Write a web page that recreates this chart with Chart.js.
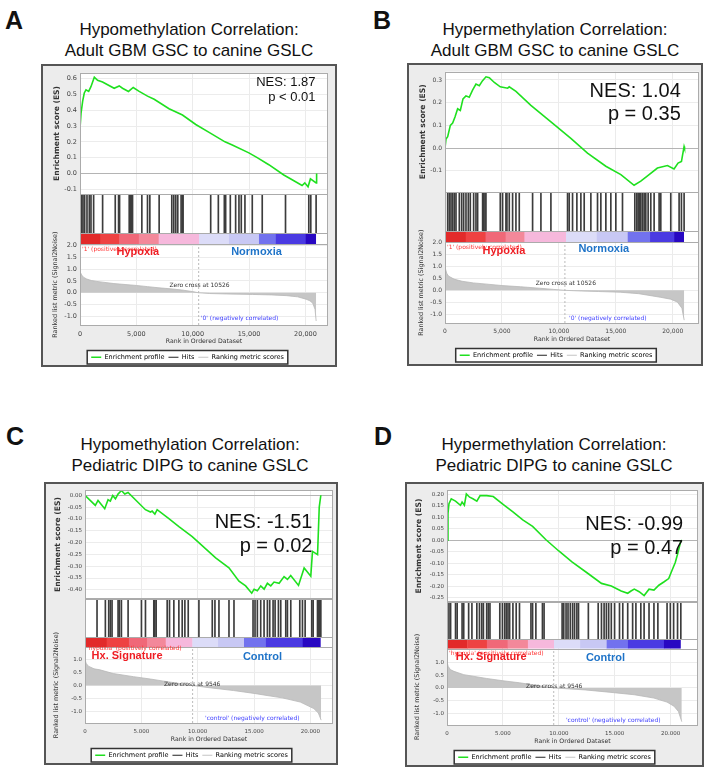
<!DOCTYPE html>
<html>
<head>
<meta charset="utf-8">
<title>GSEA methylation correlation</title>
<script src="https://cdn.jsdelivr.net/npm/chart.js@4.4.1/dist/chart.umd.min.js"></script>
<style>
  html, body { margin: 0; padding: 0; background: #fff; }
  body { position: relative; width: 709px; height: 774px; overflow: hidden; font-family: "Liberation Sans", Arial, sans-serif; color: #111; }
  .letter { position: absolute; font-size: 25px; font-weight: bold; line-height: 25px; }
  .title { position: absolute; width: 300px; text-align: center; font-size: 17px; line-height: 21px; }
  .box { position: absolute; box-sizing: border-box; border: 2px solid #555; background: #ececec; }
  .box canvas { position: absolute; left: 0; top: 0; }
</style>
</head>
<body>
<div class="letter" style="left:5px;top:8px">A</div>
<div class="title" style="left:39px;top:19px">Hypomethylation Correlation:<br>Adult GBM GSC to canine GSLC</div>
<div class="box" style="left:41px;top:64px;width:296px;height:303px"><canvas id="chartA" width="292" height="299"></canvas></div>

<div class="letter" style="left:373px;top:8px">B</div>
<div class="title" style="left:405px;top:19px">Hypermethylation Correlation:<br>Adult GBM GSC to canine GSLC</div>
<div class="box" style="left:407px;top:63px;width:296px;height:303px"><canvas id="chartB" width="292" height="299"></canvas></div>

<div class="letter" style="left:6px;top:424px">C</div>
<div class="title" style="left:40px;top:434px">Hypomethylation Correlation:<br>Pediatric DIPG to canine GSLC</div>
<div class="box" style="left:44px;top:482px;width:294px;height:283px"><canvas id="chartC" width="290" height="279"></canvas></div>

<div class="letter" style="left:374px;top:424px">D</div>
<div class="title" style="left:404px;top:434px">Hypermethylation Correlation:<br>Pediatric DIPG to canine GSLC</div>
<div class="box" style="left:405px;top:482px;width:299px;height:285px"><canvas id="chartD" width="295" height="281"></canvas></div>

<script>
// tick values
const xTicks = [0, 5000, 10000, 15000, 20000];
const esTicksA = [-0.1, 0, 0.1, 0.2, 0.3, 0.4, 0.5, 0.6];
const esTicksB = [-0.1, 0, 0.1, 0.2, 0.3];
const esTicksC = [-0.4, -0.35, -0.3, -0.25, -0.2, -0.15, -0.1, -0.05, 0];
const esTicksD = [-0.25, -0.2, -0.15, -0.1, -0.05, 0, 0.05, 0.1, 0.15, 0.2];
const rankTicksAB = [-1, -0.5, 0, 0.5, 1, 1.5, 2];
const rankTicksCD = [-1, -0.5, 0, 0.5, 1];

// heat map strip under the hits, red (hypoxia) -> blue (normoxia / control)
const barColors = ['#e22a2a', '#ee4242', '#f06878', '#f3889a', '#f6b8dc', '#dcdcf8', '#c8c8f4', '#7272ee', '#4a3ae2', '#2808c2'];

// ---- A: hypomethylation, adult GBM GSC
const esRanksA = [0, 5, 90, 240, 380, 530, 770, 970, 1270, 1560, 2000, 3030, 3480, 3770, 4300, 4720, 5250, 5990, 6580, 7900, 9090, 10270, 11450, 12860, 13510, 14980, 15720, 16750, 18080, 18820, 19700, 19940, 20230, 20440, 20950, 20990];
const esA = [0.0, 0.29, 0.38, 0.46, 0.51, 0.53, 0.52, 0.55, 0.61, 0.59, 0.58, 0.54, 0.555, 0.54, 0.52, 0.545, 0.52, 0.49, 0.47, 0.41, 0.37, 0.31, 0.26, 0.20, 0.18, 0.13, 0.10, 0.055, -0.01, -0.04, -0.077, -0.06, -0.085, -0.035, -0.06, 0.0];
const hitsA = [60, 148, 266, 413, 620, 826, 974, 1209, 2006, 3127, 3422, 3510, 4366, 4454, 4543, 4661, 5487, 5988, 6195, 7021, 8142, 8319, 8496, 8673, 8968, 9086, 9145, 11594, 12272, 12803, 12921, 13334, 13806, 14101, 14307, 14632, 15282, 16166, 18231, 20296, 20473, 20945];
const metricRanksA = [0, 40, 150, 300, 600, 1000, 1500, 2000, 3000, 4000, 5000, 6000, 7000, 8000, 9000, 10000, 10526, 11500, 13000, 15300, 17000, 18300, 19300, 20060, 20400, 20650, 20850, 20950];
const metricA = [0.97, 0.86, 0.75, 0.66, 0.58, 0.52, 0.48, 0.45, 0.39, 0.35, 0.31, 0.26, 0.21, 0.17, 0.12, 0.05, 0, -0.03, -0.05, -0.07, -0.09, -0.12, -0.17, -0.27, -0.34, -0.44, -0.7, -1.19];
const barEdgesA = [0, 1800, 3480, 5200, 6960, 10560, 13200, 15870, 17350, 20000, 20950];

// ---- B: hypermethylation, adult GBM GSC
const esRanksB = [0, 88, 234, 468, 672, 877, 1110, 1345, 1580, 1840, 2130, 2430, 2720, 3010, 3300, 3600, 3890, 4330, 4850, 5500, 5640, 6230, 7540, 9300, 11050, 12510, 14120, 15440, 16600, 17190, 17920, 18650, 19530, 20110, 20460, 20760, 20990, 21030];
const esB = [0.0, 0.04, 0.05, 0.10, 0.11, 0.137, 0.173, 0.166, 0.217, 0.23, 0.224, 0.256, 0.282, 0.275, 0.297, 0.314, 0.31, 0.289, 0.27, 0.264, 0.27, 0.25, 0.188, 0.115, 0.043, -0.022, -0.08, -0.117, -0.164, -0.146, -0.117, -0.088, -0.077, -0.092, -0.066, -0.059, 0.007, 0.0];
const hitsB = [10, 234, 380, 526, 672, 818, 965, 1257, 1462, 1637, 1842, 2046, 2222, 2514, 2719, 2865, 3303, 3391, 3508, 3596, 4853, 5057, 5350, 5438, 5643, 5935, 6228, 6520, 7690, 8421, 9298, 10760, 10905, 11198, 11578, 11929, 12221, 12806, 13391, 13683, 14122, 14560, 14998, 15583, 16665, 16840, 16957, 17074, 17191, 17337, 17483, 17629, 17834, 18068, 18360, 18798, 18945, 19822, 20553, 20758, 20992];
const metricRanksB = [0, 40, 150, 300, 790, 1500, 2500, 3680, 5000, 6640, 8000, 9500, 10526, 12000, 13500, 15400, 17000, 18900, 19800, 20400, 20800, 21000];
const metricB = [1.08, 0.9, 0.72, 0.6, 0.47, 0.38, 0.31, 0.26, 0.2, 0.15, 0.1, 0.04, 0, -0.03, -0.05, -0.08, -0.14, -0.29, -0.37, -0.49, -0.75, -1.25];
const barEdgesB = [0, 1800, 3540, 5300, 6960, 10610, 13300, 16020, 18000, 20110, 20990];

// ---- C: hypomethylation, pediatric DIPG
const esRanksC = [0, 916, 1156, 1750, 2045, 2250, 2460, 2700, 2930, 3230, 3530, 3820, 5360, 5810, 5960, 6200, 6400, 7440, 8330, 9510, 11590, 12770, 13660, 14250, 14790, 15000, 15290, 15590, 15890, 16180, 16480, 16770, 17220, 17660, 17960, 18250, 18940, 19440, 20030, 20180, 20630, 20780, 20920];
const esC = [0.0, -0.043, -0.022, -0.057, -0.019, -0.025, -0.001, -0.015, 0.005, 0.02, 0.005, 0.012, -0.061, -0.071, -0.067, -0.08, -0.061, -0.099, -0.133, -0.175, -0.265, -0.307, -0.363, -0.383, -0.414, -0.397, -0.404, -0.383, -0.397, -0.372, -0.383, -0.367, -0.372, -0.344, -0.356, -0.339, -0.381, -0.307, -0.342, -0.237, -0.251, -0.05, 0.0];
const hitsC = [1067, 1807, 2104, 2252, 2400, 2934, 3052, 3230, 3823, 5008, 5364, 6104, 6193, 6312, 7290, 7497, 7882, 8327, 8623, 8860, 9157, 10105, 11290, 11527, 11883, 12772, 13216, 14906, 15083, 15291, 15587, 15884, 16180, 16387, 16684, 16862, 17158, 17365, 17810, 17958, 18254, 19054, 19291, 19528, 20121, 20240, 20625, 20714, 20832, 20921];
const metricRanksC = [0, 100, 300, 800, 1330, 2500, 4300, 5800, 7260, 8500, 9546, 11000, 13180, 15000, 16150, 17500, 19100, 20300, 20700, 20950];
const metricC = [1.0, 0.85, 0.74, 0.64, 0.6, 0.46, 0.34, 0.25, 0.15, 0.07, 0, -0.08, -0.19, -0.3, -0.38, -0.47, -0.63, -0.88, -1.05, -1.32];
const barEdgesC = [0, 1900, 3880, 5500, 7140, 9510, 11800, 14100, 16030, 19290, 20920];

// ---- D: hypermethylation, pediatric DIPG
const esRanksD = [0, 88, 176, 381, 762, 1203, 1349, 1555, 1731, 2024, 2317, 2669, 2963, 3549, 4136, 5016, 5896, 6776, 7656, 8829, 10000, 11176, 12643, 13816, 14696, 15576, 16163, 16456, 16750, 17190, 17630, 18070, 18510, 18950, 19390, 19830, 20120, 20416, 20620, 20910, 21000];
const esD = [0.0, 0.116, 0.159, 0.18, 0.17, 0.152, 0.166, 0.152, 0.201, 0.187, 0.18, 0.17, 0.194, 0.194, 0.19, 0.156, 0.123, 0.088, 0.06, 0.003, -0.047, -0.094, -0.146, -0.188, -0.199, -0.221, -0.231, -0.221, -0.213, -0.224, -0.241, -0.213, -0.217, -0.196, -0.182, -0.167, -0.132, -0.097, -0.061, -0.004, 0.0];
const hitsD = [29, 176, 323, 763, 909, 1349, 1496, 1936, 2229, 2669, 2904, 3109, 3256, 3549, 3696, 3843, 4723, 4957, 5163, 5309, 5456, 5603, 5896, 6189, 6483, 7509, 7656, 7949, 8536, 8683, 10296, 10443, 10648, 10824, 11029, 11235, 11411, 11616, 11763, 12643, 13523, 13816, 14051, 14256, 14461, 14696, 14989, 15429, 15723, 16163, 16603, 16896, 17336, 17629, 18069, 18509, 18861, 19683, 19976, 20269, 20621, 20914];
const metricRanksD = [0, 100, 300, 620, 1500, 3550, 5000, 6490, 8000, 9546, 12350, 14500, 16750, 18500, 19680, 20300, 20700, 21000];
const metricD = [1.04, 0.85, 0.72, 0.65, 0.52, 0.37, 0.28, 0.2, 0.1, 0, -0.08, -0.17, -0.27, -0.4, -0.56, -0.72, -0.93, -1.33];
const barEdgesD = [0, 1800, 3550, 5400, 7220, 9570, 11900, 14260, 16170, 19390, 20920];

Chart.defaults.font.family = '"DejaVu Sans", sans-serif';
Chart.defaults.color = '#444';

const GREEN = '#1fe01f';
const RED = '#ee1d23', BLUE = '#1e73c8';
const big = px => px + 'px "Liberation Sans", Arial, sans-serif';
const small = '6px "DejaVu Sans", sans-serif';

// white plot area, framed sub-plots, and the legend frame
const framePlugin = {
  id: 'frame',
  beforeDraw(chart) {
    const ctx = chart.ctx, a = chart.chartArea;
    ctx.save();
    ctx.fillStyle = '#fff';
    ctx.fillRect(a.left, a.top, a.right - a.left, a.bottom - a.top);
    const hb = chart.legend && chart.legend.legendHitBoxes;
    if (hb && hb.length) {
      const l = Math.min(...hb.map(b => b.left)) - 4;
      const r = Math.max(...hb.map(b => b.left + b.width)) + 4;
      const t = hb[0].top - 3.5, h = hb[0].height + 7;
      ctx.fillRect(l, t, r - l, h);
      ctx.strokeStyle = '#333';
      ctx.lineWidth = 1.5;
      ctx.strokeRect(l, t, r - l, h);
    }
    ctx.restore();
  },
  afterDatasetsDraw(chart) {
    const ctx = chart.ctx, a = chart.chartArea;
    ctx.save();
    ctx.strokeStyle = '#ababab';
    ctx.lineWidth = 1;
    ['yES', 'yHits', 'yBar', 'yRank'].forEach(id => {
      const s = chart.scales[id];
      ctx.strokeRect(a.left + 0.5, Math.round(s.top) + 0.5, a.right - a.left - 1, Math.round(s.bottom - s.top));
    });
    ctx.restore();
  }
};

// text placed in data coordinates
const notesPlugin = {
  id: 'notes',
  afterDatasetsDraw(chart, args, opts) {
    const ctx = chart.ctx;
    (opts.items || []).forEach(n => {
      ctx.save();
      ctx.font = n.font;
      ctx.fillStyle = n.color;
      ctx.textAlign = n.align || 'center';
      ctx.textBaseline = 'middle';
      ctx.fillText(n.text, chart.scales.x.getPixelForValue(n.x), chart.scales[n.axis].getPixelForValue(n.y));
      ctx.restore();
    });
  }
};

const legendItems = [
  {text: 'Enrichment profile', fillStyle: GREEN, strokeStyle: GREEN, lineWidth: 1.6, pointStyle: 'line', hidden: false},
  {text: 'Hits', fillStyle: '#222', strokeStyle: '#222', lineWidth: 1.2, pointStyle: 'line', hidden: false},
  {text: 'Ranking metric scores', fillStyle: '#c4c4c4', strokeStyle: '#c4c4c4', lineWidth: 1.2, pointStyle: 'line', hidden: false}
];

function fmtRank(v, sep) {
  return String(v).replace(/\B(?=(\d{3})+(?!\d))/g, sep);
}

const useTicks = list => s => { s.ticks = list.map(v => ({value: v})); };

function gsea(p) {
  const pts = (xs, ys) => xs.map((x, i) => ({x: x, y: ys[i]}));
  const datasets = [
    {label: 'Enrichment profile', data: pts(p.esRanks, p.es), yAxisID: 'yES', borderColor: GREEN, borderWidth: 1.6, pointRadius: 0, tension: 0},
    {type: 'bar', label: 'Hits', data: p.hits.map(r => ({x: r, y: [0, 1]})), yAxisID: 'yHits', backgroundColor: '#3c3c3c', barThickness: 1, grouped: false, borderWidth: 0},
    {label: 'Ranking metric scores', data: pts(p.metricRanks, p.metric), yAxisID: 'yRank', borderColor: '#b8b8b8', borderWidth: 0.8, backgroundColor: '#c6c6c6', fill: 'origin', pointRadius: 0},
    {label: 'zero cross', data: [{x: p.zeroCross, y: p.rankRange[0]}, {x: p.zeroCross, y: p.rankRange[1]}], yAxisID: 'yRank', borderColor: '#aaa', borderDash: [2, 2], borderWidth: 0.8, pointRadius: 0}
  ];
  const last = barColors.length - 1;
  barColors.forEach((c, i) => datasets.push({
    // segments overlap a hair so no seam shows between neighbouring colours
    label: 'heat', data: [{x: p.barEdges[i], y: 1}, {x: p.barEdges[i + 1] + (i < last ? 60 : 0), y: 1}],
    yAxisID: 'yBar', borderWidth: 1, borderColor: c, backgroundColor: c, fill: 'origin', pointRadius: 0, order: 10 - i
  }));

  const tickFont = {size: p.tick};
  const yW = s => { s.width = p.axisW; };

  new Chart(document.getElementById(p.id), {
    type: 'line',
    data: {datasets: datasets},
    options: {
      responsive: false,
      animation: false,
      events: [],
      layout: {padding: p.pad},
      plugins: {
        legend: {
          position: 'bottom',
          labels: {usePointStyle: true, pointStyleWidth: 10, padding: 4, color: '#222', font: {size: 6.5}, generateLabels: () => legendItems}
        },
        tooltip: {enabled: false},
        notes: {items: p.notes}
      },
      scales: {
        x: {
          type: 'linear', min: 0, max: p.xMax, offset: false,
          afterBuildTicks: useTicks(xTicks),
          ticks: {font: tickFont, padding: 5, maxRotation: 0, autoSkip: false, callback: v => fmtRank(v, p.sep)},
          grid: {color: '#e6e6e6', lineWidth: 0.8, drawTicks: false, offset: false},
          border: {display: false},
          title: {display: true, text: 'Rank in Ordered Dataset', color: '#333', font: {size: 6.2}, padding: {top: 0, bottom: 5}},
          afterFit: s => { s.height = 25; s.paddingLeft = 0; s.paddingRight = 0; }
        },
        yRank: {
          type: 'linear', position: 'left', stack: 'gsea', stackWeight: p.weights[3],
          min: p.rankRange[0], max: p.rankRange[1],
          afterBuildTicks: useTicks(p.rankTicks),
          ticks: {autoSkip: false, font: tickFont, padding: 3, callback: v => v.toFixed(1)},
          grid: {color: '#ececec', drawTicks: false},
          border: {display: false},
          title: {display: true, text: 'Ranked list metric (Signal2Noise)', color: '#333', font: {size: 6.4}, padding: {top: p.titlePad, bottom: 0}},
          afterFit: yW
        },
        yBar: {type: 'linear', position: 'left', stack: 'gsea', stackWeight: p.weights[2], min: 0, max: 1, display: false},
        yHits: {type: 'linear', position: 'left', stack: 'gsea', stackWeight: p.weights[1], min: 0, max: 1, display: false},
        yES: {
          type: 'linear', position: 'left', stack: 'gsea', stackWeight: p.weights[0],
          min: p.esRange[0], max: p.esRange[1],
          afterBuildTicks: useTicks(p.esTicks),
          ticks: {autoSkip: false, font: tickFont, padding: 3, callback: v => v.toFixed(p.esDec)},
          grid: {color: c => (c.tick && c.tick.value === 0 ? '#b4b4b4' : '#ececec'), drawTicks: false},
          border: {display: false},
          title: {display: true, text: 'Enrichment score (ES)', color: '#333', font: {size: 7.6, weight: 'bold'}, padding: {top: p.titlePad, bottom: 0}},
          afterFit: yW
        }
      }
    },
    plugins: [framePlugin, notesPlugin]
  });
}

gsea({
  id: 'chartA', esRanks: esRanksA, es: esA, hits: hitsA, metricRanks: metricRanksA, metric: metricA, barEdges: barEdgesA,
  esTicks: esTicksA, rankTicks: rankTicksAB,
  zeroCross: 10526, xMax: 22000, sep: ',', tick: 6.5,
  esRange: [-0.131, 0.6375], esDec: 1, rankRange: [-1.36, 2.05],
  weights: [123, 40, 11, 82], pad: {left: 4, top: 3, right: 7, bottom: -5.5}, axisW: 33, titlePad: 5,
  notes: [
    {text: 'NES: 1.87', x: 20890, y: 0.58, axis: 'yES', font: big(13), color: '#111', align: 'right'},
    {text: 'p < 0.01', x: 20890, y: 0.48, axis: 'yES', font: big(13), color: '#111', align: 'right'},
    {text: "'1' (positively correlated)", x: 180, y: 1.82, axis: 'yRank', font: small, color: '#f33', align: 'left'},
    {text: 'Hypoxia', x: 5130, y: 1.71, axis: 'yRank', font: 'bold ' + big(11), color: RED},
    {text: 'Normoxia', x: 15660, y: 1.71, axis: 'yRank', font: 'bold ' + big(11), color: BLUE},
    {text: 'Zero cross at 10526', x: 10600, y: 0.32, axis: 'yRank', font: small, color: '#333'},
    {text: "'0' (negatively correlated)", x: 14160, y: -1.07, axis: 'yRank', font: small, color: '#4040ff'}
  ]
});

gsea({
  id: 'chartB', esRanks: esRanksB, es: esB, hits: hitsB, metricRanks: metricRanksB, metric: metricB, barEdges: barEdgesB,
  esTicks: esTicksB, rankTicks: rankTicksAB,
  zeroCross: 10526, xMax: 22300, sep: ',', tick: 6,
  esRange: [-0.193, 0.337], esDec: 1, rankRange: [-1.37, 2.02],
  weights: [122, 40, 11, 82], pad: {left: 4, top: 3, right: 2, bottom: -4.5}, axisW: 32, titlePad: 5,
  notes: [
    {text: 'NES: 1.04', x: 20700, y: 0.25, axis: 'yES', font: big(20), color: '#111', align: 'right'},
    {text: 'p = 0.35', x: 20700, y: 0.146, axis: 'yES', font: big(20), color: '#111', align: 'right'},
    {text: "'1' (positively correlated)", x: 175, y: 1.8, axis: 'yRank', font: small, color: '#f33', align: 'left'},
    {text: 'Hypoxia', x: 5170, y: 1.67, axis: 'yRank', font: 'bold ' + big(11), color: RED},
    {text: 'Normoxia', x: 13940, y: 1.75, axis: 'yRank', font: 'bold ' + big(11), color: BLUE},
    {text: 'Zero cross at 10526', x: 10610, y: 0.28, axis: 'yRank', font: small, color: '#333'},
    {text: "'0' (negatively correlated)", x: 14300, y: -1.16, axis: 'yRank', font: small, color: '#4040ff'}
  ]
});

gsea({
  id: 'chartC', esRanks: esRanksC, es: esC, hits: hitsC, metricRanks: metricRanksC, metric: metricC, barEdges: barEdgesC,
  esTicks: esTicksC, rankTicks: rankTicksCD,
  zeroCross: 9546, xMax: 22000, sep: '.', tick: 5.5,
  esRange: [-0.4375, 0.021], esDec: 2, rankRange: [-1.43, 1.47],
  weights: [110, 39, 10, 77], pad: {left: 4, top: 3, right: 3, bottom: -5.5}, axisW: 35, titlePad: 3,
  notes: [
    {text: 'NES: -1.51', x: 20180, y: -0.117, axis: 'yES', font: big(20), color: '#111', align: 'right'},
    {text: 'p = 0.02', x: 20180, y: -0.217, axis: 'yES', font: big(20), color: '#111', align: 'right'},
    {text: "'hypoxia' (positively correlated)", x: 180, y: 1.4, axis: 'yRank', font: small, color: '#f33', align: 'left'},
    {text: 'Hx. Signature', x: 3730, y: 1.13, axis: 'yRank', font: 'bold ' + big(11), color: RED},
    {text: 'Control', x: 15740, y: 1.09, axis: 'yRank', font: 'bold ' + big(11), color: BLUE},
    {text: 'Zero cross at 9546', x: 9510, y: 0.06, axis: 'yRank', font: small, color: '#333'},
    {text: "'control' (negatively correlated)", x: 14850, y: -1.25, axis: 'yRank', font: small, color: '#4040ff'}
  ]
});

gsea({
  id: 'chartD', esRanks: esRanksD, es: esD, hits: hitsD, metricRanks: metricRanksD, metric: metricD, barEdges: barEdgesD,
  esTicks: esTicksD, rankTicks: rankTicksCD,
  zeroCross: 9546, xMax: 22450, sep: '.', tick: 5.5,
  esRange: [-0.268, 0.217], esDec: 2, rankRange: [-1.46, 1.54],
  weights: [114, 38, 10, 78], pad: {left: 4, top: 1, right: 4, bottom: -5.5}, axisW: 36, titlePad: 3,
  notes: [
    {text: 'NES: -0.99', x: 21120, y: 0.068, axis: 'yES', font: big(20), color: '#111', align: 'right'},
    {text: 'p = 0.47', x: 21120, y: -0.034, axis: 'yES', font: big(20), color: '#111', align: 'right'},
    {text: "'hypoxia' (positively correlated)", x: 180, y: 1.35, axis: 'yRank', font: small, color: '#f33', align: 'left'},
    {text: 'Hx. Signature', x: 3960, y: 1.23, axis: 'yRank', font: 'bold ' + big(11), color: RED},
    {text: 'Control', x: 14170, y: 1.19, axis: 'yRank', font: 'bold ' + big(11), color: BLUE},
    {text: 'Zero cross at 9546', x: 9590, y: 0.06, axis: 'yRank', font: small, color: '#333'},
    {text: "'control' (negatively correlated)", x: 14870, y: -1.27, axis: 'yRank', font: small, color: '#4040ff'}
  ]
});
</script>
</body>
</html>
